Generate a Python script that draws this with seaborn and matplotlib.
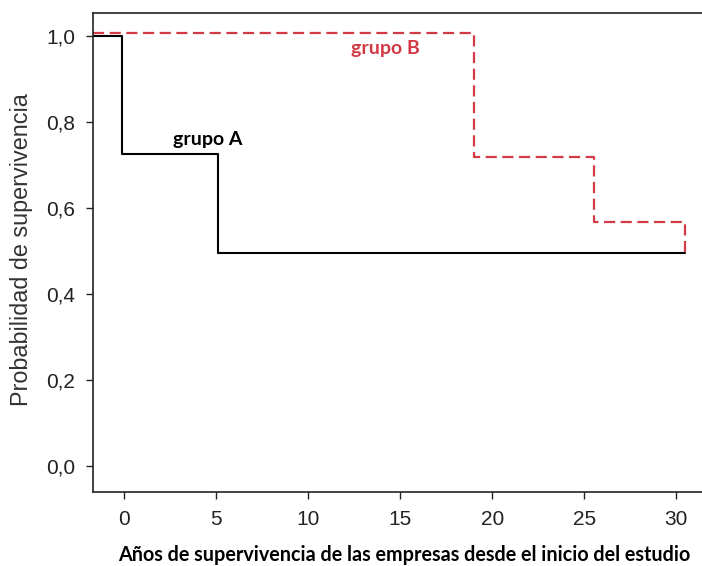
import matplotlib
matplotlib.use("Agg")
import matplotlib.pyplot as plt
import seaborn as sns
import pandas as pd

# Data
tiempo_a = [-1.68, -0.125, 5.12, 30.5]
superv_a = [1.0, 0.725, 0.494, 0.494]
tiempo_b = [-1.68, 19.02, 25.54, 30.45]
superv_b = [1.007, 0.718, 0.566, 0.497]
xticks = [0, 5, 10, 15, 20, 25, 30]
yticks = [0.0, 0.2, 0.4, 0.6, 0.8, 1.0]
ytick_labels = ["0,0", "0,2", "0,4", "0,6", "0,8", "1,0"]

sns.set_style("ticks")
plt.rcParams['font.family'] = ['Liberation Sans', 'DejaVu Sans']

W, H = 702, 566
fig = plt.figure(figsize=(W / 100, H / 100), dpi=100)
ax_l, ax_b, ax_t = 93, 492, 12.7
ax = fig.add_axes([ax_l / W, 1 - ax_b / H, (W - ax_l) / W, (ax_b - ax_t) / H])
ax_w, ax_h = W - ax_l, ax_b - ax_t

df_a = pd.DataFrame({"t": tiempo_a, "s": superv_a})
df_b = pd.DataFrame({"t": tiempo_b, "s": superv_b})

sns.lineplot(data=df_a, x="t", y="s", ax=ax, color="black", linewidth=1.5,
             drawstyle="steps-post", estimator=None, sort=False)
sns.lineplot(data=df_b, x="t", y="s", ax=ax, color="#d23a45", linewidth=1.6,
             drawstyle="steps-post", estimator=None, sort=False)
ax.lines[-1].set_dashes([5, 2.5])

ax.set_xlim(-1.68, 31.4)
ax.set_ylim(-0.0604, 1.0535)
ax.set_xticks(xticks)
ax.set_yticks(yticks)
ax.set_yticklabels(ytick_labels)
ax.tick_params(axis="both", length=5, width=1, color="#222222",
               labelsize=15, labelcolor="#222222", pad=8)

for s in ["left", "bottom", "top"]:
    ax.spines[s].set_linewidth(1.2)
    ax.spines[s].set_color("#222222")
    ax.spines[s].set_visible(True)
ax.spines["right"].set_visible(False)

ax.set_ylabel("Probabilidad de supervivencia", fontsize=16.8, color="#333333",
              va="center")
ax.yaxis.set_label_coords(-(ax_l - 22) / ax_w, 1 - (250 - ax_t) / ax_h)
ax.set_xlabel("Años de supervivencia de las empresas desde el inicio del estudio",
              fontsize=14.2, fontweight="bold", family=["Lato", "DejaVu Sans"],
              color="black", va="center")
ax.xaxis.set_label_coords((404 - ax_l) / ax_w, -(555 - ax_b) / ax_h)

ax.text(4.57, 0.758, "grupo A", fontsize=14, fontweight="bold",
        family=["Lato", "DejaVu Sans"], color="black", ha="center", va="center")
ax.text(14.2, 0.971, "grupo B", fontsize=14, fontweight="bold",
        family=["Lato", "DejaVu Sans"], color="#d23a45", ha="center", va="center")

fig.savefig("out.png", dpi=100)
